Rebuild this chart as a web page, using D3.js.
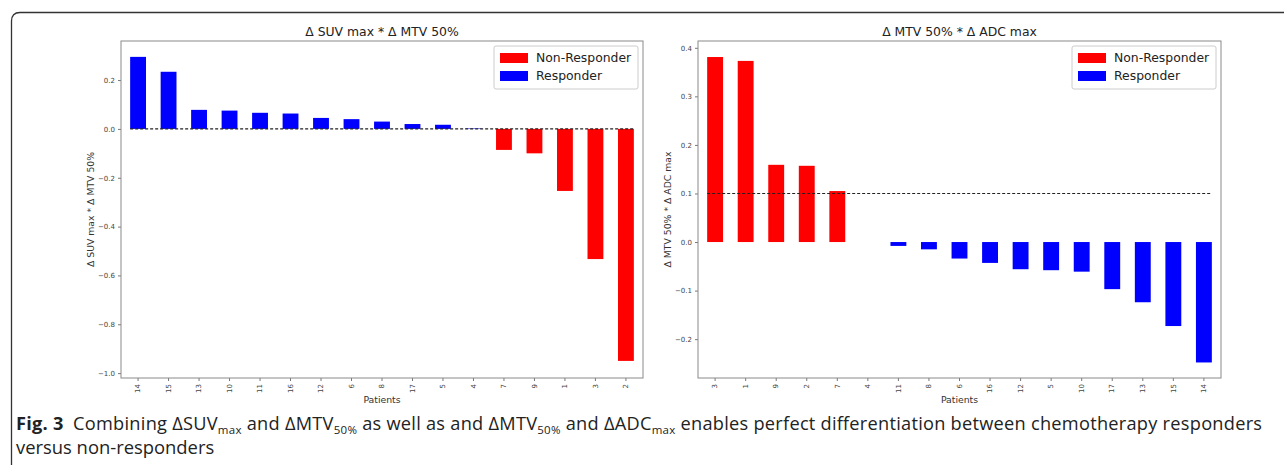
<!DOCTYPE html>
<html>
<head>
<meta charset="utf-8">
<script src="https://cdn.jsdelivr.net/npm/d3@7"></script>
<style>
  body { margin: 0; background: #fff; }
  svg { display: block; }
</style>
</head>
<body>
<svg id="fig" width="1284" height="465"></svg>
<script>
// patients in plotted order, and the product value per patient
const patientsA = ["14", "15", "13", "10", "11", "16", "12", "6", "8", "17", "5", "4", "7", "9", "1", "3", "2"];
const valuesA = [0.295, 0.234, 0.078, 0.075, 0.066, 0.063, 0.045, 0.04, 0.03, 0.02, 0.017, 0.002, -0.086, -0.10, -0.254, -0.533, -0.95];
const groupA = ["R", "R", "R", "R", "R", "R", "R", "R", "R", "R", "R", "R", "N", "N", "N", "N", "N"];

const patientsB = ["3", "1", "9", "2", "7", "4", "11", "8", "6", "16", "12", "5", "10", "17", "13", "15", "14"];
const valuesB = [0.381, 0.373, 0.159, 0.157, 0.105, 0, -0.008, -0.015, -0.034, -0.043, -0.056, -0.058, -0.061, -0.097, -0.124, -0.173, -0.248];
const groupB = ["N", "N", "N", "N", "N", "R", "R", "R", "R", "R", "R", "R", "R", "R", "R", "R", "R"];

const ticksA = [0.2, 0.0, -0.2, -0.4, -0.6, -0.8, -1.0];
const ticksB = [0.4, 0.3, 0.2, 0.1, 0.0, -0.1, -0.2];

const legendItems = ["Non-Responder", "Responder"];
const colors = { N: "#ff0000", R: "#0000ff" };

const svg = d3.select("#fig");

// frame of the figure box (cut off on right and bottom)
svg.append("path")
    .attr("d", "M11.5,465 V21 Q11.5,12.5 20,12.5 H1284")
    .attr("fill", "none")
    .attr("stroke", "#333")
    .attr("stroke-width", 1.3);

const drawChart = function (opts) {
    const { left, top, width, height, patients, values, groups, domain, ticks, title, ylabel, refLine } = opts;
    const g = svg.append("g").attr("transform", `translate(${left},${top})`);

    const x = d3.scaleBand()
        .domain(patients)
        .range([0, width])
        .paddingInner(0.48)
        .paddingOuter(0.3);

    const y = d3.scaleLinear()
        .domain(domain)
        .range([height, 0]);

    // bars
    g.selectAll("rect.bar")
        .data(patients)
        .enter().append("rect")
        .attr("class", "bar")
        .attr("x", d => x(d))
        .attr("width", x.bandwidth())
        .attr("y", (d, i) => y(Math.max(0, values[i])))
        .attr("height", (d, i) => Math.abs(y(values[i]) - y(0)))
        .attr("fill", (d, i) => colors[groups[i]]);

    // dashed reference line
    g.append("line")
        .attr("x1", x(patients[0]))
        .attr("x2", x(patients[patients.length - 1]) + x.bandwidth())
        .attr("y1", y(refLine))
        .attr("y2", y(refLine))
        .attr("stroke", "#222")
        .attr("stroke-width", 1.1)
        .attr("stroke-dasharray", "3,2");

    // y axis
    const yAxis = g.append("g")
        .call(d3.axisLeft(y).tickValues(ticks).tickFormat(d3.format(".1f")).tickSize(3).tickPadding(3));
    yAxis.select(".domain").remove();
    yAxis.selectAll("line").attr("stroke", "#777");
    yAxis.selectAll("text")
        .text(d => d3.format(".1f")(d).replace("-", "\u2212"))
        .attr("fill", "#444")
        .style("font", "7px 'DejaVu Sans'");

    // x axis
    const xAxis = g.append("g")
        .attr("transform", `translate(0,${height})`)
        .call(d3.axisBottom(x).tickSize(3).tickPadding(3));
    xAxis.select(".domain").remove();
    xAxis.selectAll("line").attr("stroke", "#777");
    xAxis.selectAll("text")
        .attr("fill", "#444")
        .style("font", "7px 'DejaVu Sans'")
        .attr("transform", "rotate(-90)")
        .attr("text-anchor", "end")
        .attr("x", -6)
        .attr("y", 0)
        .attr("dy", "0.32em");

    // spines
    g.append("rect")
        .attr("width", width)
        .attr("height", height)
        .attr("fill", "none")
        .attr("stroke", "#8a8a8a")
        .attr("stroke-width", 1);

    // title and labels
    g.append("text")
        .attr("x", width / 2)
        .attr("y", -5)
        .attr("text-anchor", "middle")
        .attr("fill", "#222")
        .style("font", "12.4px 'DejaVu Sans'")
        .text(title);

    g.append("text")
        .attr("x", width / 2)
        .attr("y", height + 25)
        .attr("text-anchor", "middle")
        .attr("fill", "#333")
        .style("font", "9.3px 'DejaVu Sans'")
        .text("Patients");

    g.append("text")
        .attr("transform", `translate(-27,${height / 2}) rotate(-90)`)
        .attr("text-anchor", "middle")
        .attr("fill", "#333")
        .style("font", "9.3px 'DejaVu Sans'")
        .text(ylabel);

    // legend
    const lg = g.append("g").attr("transform", `translate(${width - 149},5)`);
    lg.append("rect")
        .attr("width", 144)
        .attr("height", 43)
        .attr("rx", 2)
        .attr("fill", "#fff")
        .attr("stroke", "#ccc");
    const item = lg.selectAll("g.item")
        .data(legendItems)
        .enter().append("g")
        .attr("class", "item")
        .attr("transform", (d, i) => `translate(6,${7 + i * 18})`);
    item.append("rect")
        .attr("width", 28)
        .attr("height", 10)
        .attr("fill", (d, i) => i === 0 ? colors.N : colors.R);
    item.append("text")
        .attr("x", 36)
        .attr("y", 5)
        .attr("dy", "0.35em")
        .attr("fill", "#222")
        .style("font", "12.4px 'DejaVu Sans'")
        .text(d => d);
};

drawChart({
    left: 121, top: 41, width: 522, height: 337,
    patients: patientsA, values: valuesA, groups: groupA,
    domain: [-1.02, 0.36], ticks: ticksA,
    title: "\u0394 SUV max * \u0394 MTV 50%",
    ylabel: "\u0394 SUV max * \u0394 MTV 50%",
    refLine: 0
});

drawChart({
    left: 698, top: 41, width: 523, height: 337,
    patients: patientsB, values: valuesB, groups: groupB,
    domain: [-0.28, 0.414], ticks: ticksB,
    title: "\u0394 MTV 50% * \u0394 ADC max",
    ylabel: "\u0394 MTV 50% * \u0394 ADC max",
    refLine: 0.1
});

// caption
const cap = svg.append("text")
    .attr("x", 16)
    .attr("y", 430)
    .attr("fill", "#222")
    .style("font", "18.2px 'Open Sans'")
    .attr("textLength", 1246)
    .attr("lengthAdjust", "spacing");
cap.append("tspan").attr("font-weight", "bold").text("Fig. 3");
cap.append("tspan").text("\u2002Combining \u0394SUV");
cap.append("tspan").attr("dy", 4).style("font-size", "11.5px").text("max");
cap.append("tspan").attr("dy", -4).text(" and \u0394MTV");
cap.append("tspan").attr("dy", 4).style("font-size", "11.5px").text("50%");
cap.append("tspan").attr("dy", -4).text(" as well as and \u0394MTV");
cap.append("tspan").attr("dy", 4).style("font-size", "11.5px").text("50%");
cap.append("tspan").attr("dy", -4).text(" and \u0394ADC");
cap.append("tspan").attr("dy", 4).style("font-size", "11.5px").text("max");
cap.append("tspan").attr("dy", -4).text(" enables perfect differentiation between chemotherapy responders");

svg.append("text")
    .attr("x", 16)
    .attr("y", 454)
    .attr("fill", "#222")
    .style("font", "18.4px 'Open Sans'")
    .text("versus non-responders");
</script>
</body>
</html>
